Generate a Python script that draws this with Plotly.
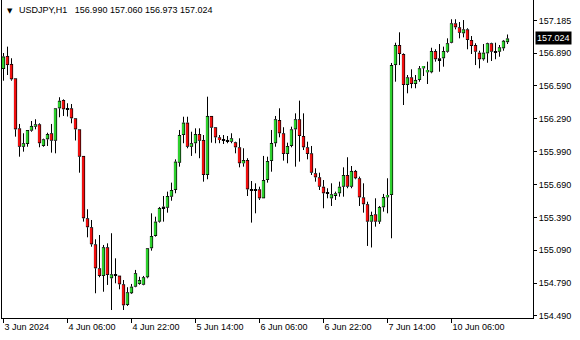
import plotly.graph_objects as go

# USDJPY H1 candles (bar index 0 = 3 Jun 2024 14:00)
opens = [156.745, 156.864, 156.791, 156.660, 156.203, 156.035, 156.060, 156.182, 156.218, 156.240,
         156.042, 156.103, 156.158, 156.090, 156.386, 156.462, 156.386, 156.386, 156.295, 156.194,
         155.951, 155.382, 155.300, 155.144, 154.925, 154.855, 155.117, 154.834, 154.870, 154.858,
         154.779, 154.590, 154.697, 154.757, 154.782, 154.775, 154.843, 155.108, 155.220, 155.351,
         155.473, 155.478, 155.579, 155.640, 155.889, 156.142, 156.255, 156.035, 156.067, 156.151,
         156.097, 155.777, 156.316, 156.213, 156.121, 156.103, 156.097, 156.081, 156.076, 156.030,
         155.884, 155.914, 155.646, 155.646, 155.646, 155.564, 155.731, 155.905, 156.067, 156.279,
         156.158, 155.969, 156.042, 156.194, 156.286, 156.133, 156.030, 155.975, 155.793, 155.756,
         155.670, 155.612, 155.564, 155.592, 155.610, 155.670, 155.777, 155.670, 155.814, 155.747,
         155.573, 155.510, 155.351, 155.418, 155.351, 155.482, 155.573, 155.594, 156.781, 156.964,
         156.882, 156.599, 156.669, 156.608, 156.645, 156.751, 156.715, 156.715, 156.909, 156.827,
         156.843, 156.903, 156.985, 157.162, 157.126, 157.071, 157.107, 157.010, 156.964, 156.894,
         156.834, 156.888, 156.980, 156.909, 156.903, 156.934, 156.990]

highs = [156.891, 156.949, 156.843, 156.660, 156.243, 156.158, 156.188, 156.270, 156.286, 156.249,
         156.109, 156.163, 156.243, 156.386, 156.487, 156.468, 156.432, 156.425, 156.295, 156.194,
         155.951, 155.464, 155.366, 155.190, 155.229, 155.138, 155.153, 155.245, 155.016, 154.858,
         154.818, 154.752, 154.782, 154.910, 154.848, 154.855, 155.108, 155.427, 155.396, 155.485,
         155.585, 155.625, 155.707, 155.920, 156.188, 156.309, 156.309, 156.172, 156.203, 156.203,
         156.142, 156.492, 156.316, 156.213, 156.142, 156.142, 156.133, 156.158, 156.081, 156.112,
         156.021, 155.930, 155.722, 155.701, 155.670, 155.951, 155.944, 156.188, 156.316, 156.386,
         156.213, 156.072, 156.218, 156.340, 156.456, 156.340, 156.081, 156.042, 155.838, 155.798,
         155.731, 155.656, 155.701, 155.625, 155.716, 155.847, 155.939, 155.859, 155.823, 155.762,
         155.701, 155.533, 155.442, 155.564, 155.494, 155.604, 155.747, 156.800, 156.985, 157.080,
         156.888, 156.690, 156.742, 156.690, 156.772, 156.772, 156.812, 156.939, 156.925, 156.973,
         156.949, 157.025, 157.199, 157.199, 157.174, 157.192, 157.117, 157.046, 156.980, 156.912,
         156.973, 156.985, 156.985, 156.985, 156.964, 157.010, 157.060]

lows = [156.638, 156.690, 156.638, 156.127, 155.944, 155.990, 156.035, 156.172, 156.194, 156.030,
        156.035, 156.042, 155.981, 155.975, 156.304, 156.316, 156.311, 156.249, 156.092, 155.798,
        155.351, 155.208, 155.122, 154.697, 154.843, 154.711, 154.773, 154.544, 154.788, 154.733,
        154.544, 154.581, 154.690, 154.752, 154.775, 154.770, 154.834, 155.086, 155.214, 155.342,
        155.351, 155.433, 155.542, 155.610, 155.853, 156.067, 156.021, 155.951, 155.975, 155.930,
        155.716, 155.738, 156.072, 156.067, 156.067, 156.060, 156.067, 156.067, 155.975, 155.847,
        155.853, 155.585, 155.342, 155.427, 155.549, 155.564, 155.707, 155.807, 156.035, 156.121,
        155.908, 155.884, 156.030, 155.853, 155.899, 156.005, 155.920, 155.777, 155.716, 155.640,
        155.473, 155.564, 155.494, 155.549, 155.579, 155.579, 155.656, 155.656, 155.738, 155.494,
        155.433, 155.129, 155.115, 155.305, 155.330, 155.442, 155.427, 155.199, 156.629, 156.781,
        156.416, 156.523, 156.569, 156.569, 156.629, 156.681, 156.608, 156.706, 156.812, 156.720,
        156.766, 156.894, 156.980, 157.107, 157.025, 157.034, 156.925, 156.882, 156.781, 156.751,
        156.821, 156.802, 156.818, 156.834, 156.857, 156.912, 156.973]

closes = [156.859, 156.781, 156.651, 156.194, 156.035, 156.067, 156.188, 156.225, 156.240, 156.067,
          156.103, 156.151, 156.090, 156.386, 156.455, 156.377, 156.377, 156.295, 156.194, 155.944,
          155.382, 155.300, 155.144, 154.925, 154.855, 155.117, 154.864, 154.870, 154.858, 154.779,
          154.587, 154.706, 154.757, 154.880, 154.818, 154.843, 155.108, 155.220, 155.351, 155.476,
          155.488, 155.585, 155.640, 155.899, 156.142, 156.255, 156.035, 156.067, 156.151, 156.090,
          155.777, 156.316, 156.209, 156.121, 156.097, 156.090, 156.081, 156.112, 156.030, 155.884,
          155.914, 155.646, 155.640, 155.640, 155.564, 155.731, 155.905, 156.069, 156.286, 156.158,
          155.969, 156.042, 156.194, 156.286, 156.133, 156.030, 155.969, 155.798, 155.756, 155.670,
          155.610, 155.610, 155.601, 155.610, 155.670, 155.777, 155.670, 155.814, 155.747, 155.573,
          155.510, 155.351, 155.412, 155.351, 155.485, 155.576, 155.594, 156.781, 156.964, 156.882,
          156.599, 156.669, 156.608, 156.645, 156.751, 156.772, 156.736, 156.909, 156.834, 156.843,
          156.909, 156.980, 157.162, 157.126, 157.076, 157.107, 157.010, 156.955, 156.903, 156.834,
          156.894, 156.980, 156.903, 156.897, 156.943, 157.003, 157.024]

time_tick_index = [0, 16, 32, 48, 64, 80, 96, 112]
time_tick_labels = ["3 Jun 2024", "4 Jun 06:00", "4 Jun 22:00", "5 Jun 14:00",
                    "6 Jun 06:00", "6 Jun 22:00", "7 Jun 14:00", "10 Jun 06:00"]
price_ticks = [157.185, 156.890, 156.590, 156.290, 155.990, 155.690, 155.390, 155.090, 154.790, 154.490]

symbol = "USDJPY,H1"
last_price = closes[-1]

BULL = "#2ed02e"
BEAR = "#f01010"
FONT = "Liberation Sans, Arial, sans-serif"

W, H = 580, 340
MARGIN = dict(l=2, r=47, t=0, b=22)
Y_RANGE = [154.471, 157.375]
X_RANGE = [-0.375, 132.375]
px = (Y_RANGE[1] - Y_RANGE[0]) / (H - MARGIN["t"] - MARGIN["b"])  # price per pixel
INSET = 0.8 * px

bars = list(range(len(opens)))
body_lo = [min(o, c) for o, c in zip(opens, closes)]
body_hi = [max(o, c) for o, c in zip(opens, closes)]
# outer black box (at least one pixel tall)
outer_base = [lo if hi - lo >= px else (lo + hi) / 2 - px / 2 for lo, hi in zip(body_lo, body_hi)]
outer_len = [max(hi - lo, px) for lo, hi in zip(body_lo, body_hi)]
# coloured interior, inset inside the black outline
in_x, in_base, in_len, in_col = [], [], [], []
for i, o, c, lo, hi in zip(bars, opens, closes, body_lo, body_hi):
    if hi - lo > 2 * INSET + 0.3 * px:
        in_x.append(i)
        in_base.append(lo + INSET)
        in_len.append(hi - lo - 2 * INSET)
        in_col.append(BULL if c >= o else BEAR)

# wicks: upper (body top -> high) and lower (low -> body bottom) segments
wick_x, wick_y = [], []
for i, h, l, lo, hi in zip(bars, highs, lows, body_lo, body_hi):
    if h > hi:
        wick_x += [i, i, None]
        wick_y += [hi, h, None]
    if l < lo:
        wick_x += [i, i, None]
        wick_y += [l, lo, None]

fig = go.Figure()
fig.add_trace(go.Scatter(
    x=wick_x, y=wick_y, mode="lines", line=dict(color="black", width=1),
    hoverinfo="skip", showlegend=False,
))
fig.add_trace(go.Bar(
    x=bars, y=outer_len, base=outer_base, width=0.8,
    marker=dict(color="black", line=dict(width=0)),
    hoverinfo="skip", showlegend=False,
))
fig.add_trace(go.Bar(
    x=in_x, y=in_len, base=in_base, width=0.45,
    marker=dict(color=in_col, line=dict(width=0)),
    hoverinfo="skip", showlegend=False,
))

fig.update_layout(
    width=W, height=H, margin=MARGIN,
    paper_bgcolor="white", plot_bgcolor="white",
    font=dict(family=FONT, size=9, color="black"),
    showlegend=False,
    bargap=0.1, bargroupgap=0, barmode="overlay",
    xaxis=dict(
        range=X_RANGE,
        showgrid=False, zeroline=False, showline=True, linecolor="black", linewidth=1,
        tickmode="array", tickvals=time_tick_index, ticktext=time_tick_labels,
        ticks="outside", ticklen=4, tickcolor="black", ticklabelposition="outside right",
        tickfont=dict(family=FONT, size=9, color="black"),
    ),
    yaxis=dict(
        side="right", range=Y_RANGE,
        showgrid=False, zeroline=False, showline=True, mirror=True,
        linecolor="black", linewidth=1,
        tickmode="array", tickvals=price_ticks, ticktext=[f"{v:.3f}" for v in price_ticks],
        ticks="outside", ticklen=3, tickcolor="black",
        tickfont=dict(family=FONT, size=9, color="black"),
    ),
)

fig.add_annotation(
    xref="paper", yref="paper", x=0, y=1, xanchor="left", yanchor="top",
    xshift=3, yshift=-5, showarrow=False, text="▼",
    font=dict(family="DejaVu Sans", size=7, color="black"),
)
fig.add_annotation(
    xref="paper", yref="paper", x=0, y=1, xanchor="left", yanchor="top",
    xshift=15, yshift=-3, showarrow=False,
    text=f"{symbol}\u00a0\u00a0 {opens[-1]:.3f} {highs[-1]:.3f} {lows[-1]:.3f} {closes[-1]:.3f}",
    font=dict(family=FONT, size=9, color="black"),
)
fig.add_annotation(
    xref="paper", yref="y", x=1, y=last_price, xanchor="left", yanchor="middle",
    xshift=2, showarrow=False, text=f"{last_price:.3f}",
    bgcolor="black", borderpad=1,
    font=dict(family=FONT, size=9, color="white"),
)

fig.write_html("out.html")
